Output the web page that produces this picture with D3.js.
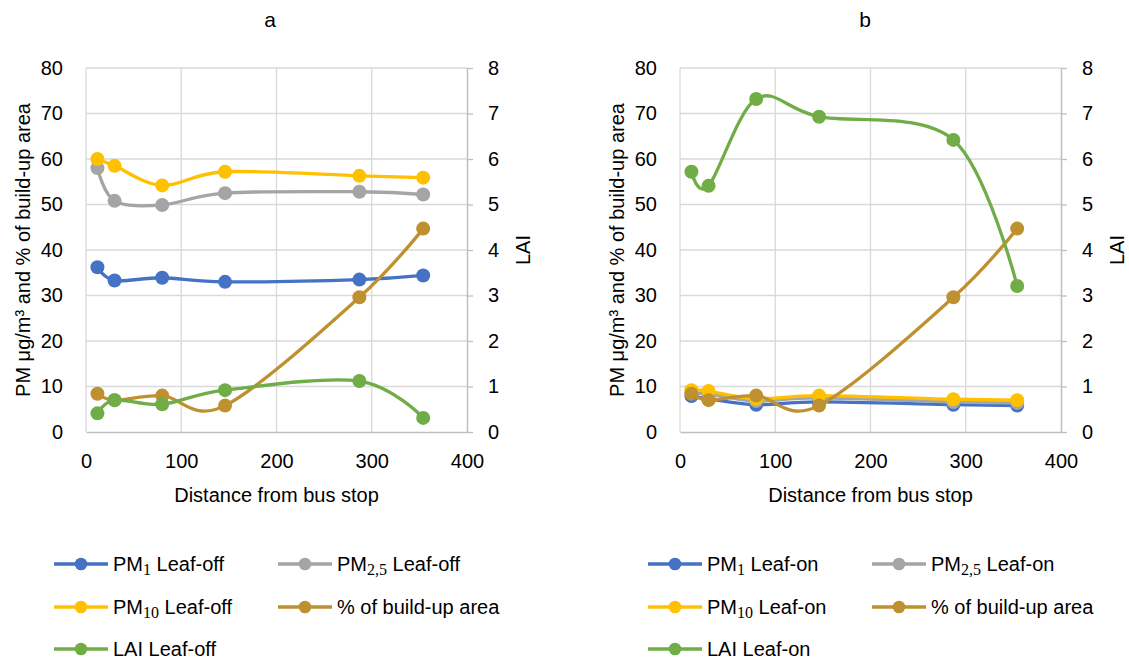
<!DOCTYPE html>
<html>
<head>
<meta charset="utf-8">
<script src="https://cdn.jsdelivr.net/npm/d3@7"></script>
<style>
  body { margin: 0; background: #fff; }
  text { font-family: "Liberation Sans", Arial, sans-serif; fill: #000; }
</style>
</head>
<body>
<svg id="chart" width="1129" height="664"></svg>
<script>
// distances of the sampling points from the bus stop (m)
const distance = [12, 30, 80, 146, 287, 354];

// leaf-off season (panel a)
const pm1Off  = [36.2, 33.3, 33.9, 33.0, 33.5, 34.4];
const pm25Off = [58.0, 50.8, 49.9, 52.5, 52.8, 52.2];
const pm10Off = [60.0, 58.5, 54.2, 57.2, 56.3, 55.9];
const laiOff  = [0.41, 0.70, 0.61, 0.92, 1.12, 0.31];

// leaf-on season (panel b)
const pm1On  = [7.9, 7.3, 6.0, 6.6, 6.0, 5.8];
const pm25On = [8.5, 8.3, 6.8, 7.5, 6.6, 6.4];
const pm10On = [9.2, 9.0, 7.3, 8.0, 7.2, 7.0];
const laiOn  = [5.72, 5.41, 7.32, 6.93, 6.42, 3.21];

// same for both seasons
const buildUp = [8.4, 7.0, 8.0, 5.8, 29.6, 44.7];

const xTicks = [0, 100, 200, 300, 400];
const yTicks = [0, 10, 20, 30, 40, 50, 60, 70, 80];
const laiTicks = [0, 1, 2, 3, 4, 5, 6, 7, 8];

const colors = {
  pm1: "#4472C4",
  pm25: "#A5A5A5",
  pm10: "#FFC000",
  build: "#BF9030",
  lai: "#70AD47"
};

const svg = d3.select("#chart");
svg.append("rect").attr("width", 1129).attr("height", 664).attr("fill", "#fff");

const FONT = 20;

function drawPanel(opts) {
  const left = opts.left, right = opts.left + 381;
  const top = 68, bottom = 432;

  const x = d3.scaleLinear().domain([0, 400]).range([left, right]);
  const y = d3.scaleLinear().domain([0, 80]).range([bottom, top]);
  const yR = d3.scaleLinear().domain([0, 8]).range([bottom, top]);

  const g = svg.append("g");

  // gridlines
  g.append("g").selectAll("line")
    .data(yTicks.slice(1))
    .join("line")
    .attr("x1", left).attr("x2", right)
    .attr("y1", d => y(d)).attr("y2", d => y(d))
    .attr("stroke", "#D9D9D9").attr("stroke-width", 1.3);
  g.append("g").selectAll("line")
    .data(xTicks.slice(0, -1))
    .join("line")
    .attr("x1", d => x(d)).attr("x2", d => x(d))
    .attr("y1", top).attr("y2", bottom)
    .attr("stroke", "#D9D9D9").attr("stroke-width", 1.3);

  // left axis (labels only)
  const la = g.append("g")
    .attr("transform", `translate(${left},0)`)
    .call(d3.axisLeft(y).tickValues(yTicks).tickSize(0).tickPadding(23));
  la.select(".domain").remove();

  // right axis with outer ticks
  const ra = g.append("g")
    .attr("transform", `translate(${right},0)`)
    .call(d3.axisRight(yR).tickValues(laiTicks).tickSize(6).tickPadding(15).tickSizeOuter(0));
  ra.select(".domain").attr("stroke", "#BFBFBF").attr("stroke-width", 1.5);
  ra.selectAll(".tick line").attr("stroke", "#BFBFBF").attr("stroke-width", 1.3);

  // bottom axis
  const ba = g.append("g")
    .attr("transform", `translate(0,${bottom})`)
    .call(d3.axisBottom(x).tickValues(xTicks).tickSize(0).tickPadding(22));
  ba.select(".domain").attr("stroke", "#BFBFBF").attr("stroke-width", 1.5);

  g.selectAll(".tick text")
    .attr("font-size", FONT)
    .attr("font-family", "Liberation Sans, Arial, sans-serif")
    .attr("fill", "#000");

  // titles
  g.append("text")
    .attr("x", opts.titleX).attr("y", 27)
    .attr("text-anchor", "middle")
    .attr("font-size", 21)
    .text(opts.title);

  g.append("text")
    .attr("x", (left + right) / 2).attr("y", 502)
    .attr("text-anchor", "middle")
    .attr("font-size", FONT)
    .text("Distance from bus stop");

  g.append("text")
    .attr("transform", `translate(${left - 56},250) rotate(-90)`)
    .attr("text-anchor", "middle")
    .attr("font-size", FONT)
    .text("PM μg/m³ and % of build-up area");

  g.append("text")
    .attr("transform", `translate(${right + 63},250) rotate(-90)`)
    .attr("text-anchor", "middle")
    .attr("font-size", FONT)
    .text("LAI");

  // series
  const curve = d3.curveCardinal.tension(0);
  opts.series.forEach(s => {
    const sc = s.right ? yR : y;
    const pts = distance.map((d, i) => [d, s.values[i]]);
    const line = d3.line().x(p => x(p[0])).y(p => sc(p[1])).curve(curve);
    g.append("path")
      .attr("d", line(pts))
      .attr("fill", "none")
      .attr("stroke", s.color)
      .attr("stroke-width", 3.3)
      .attr("stroke-linejoin", "round");
    g.append("g").selectAll("circle")
      .data(pts)
      .join("circle")
      .attr("cx", p => x(p[0]))
      .attr("cy", p => sc(p[1]))
      .attr("r", 7)
      .attr("fill", s.color);
  });

  // legend
  const rows = [564, 607, 649];
  const cols = [opts.legendX, opts.legendX + 224];
  opts.series.forEach((s, i) => {
    const cx = cols[i % 2], cy = rows[Math.floor(i / 2)];
    const lg = g.append("g").attr("transform", `translate(${cx},${cy})`);
    lg.append("line")
      .attr("x1", 0).attr("x2", 54)
      .attr("stroke", s.color).attr("stroke-width", 3.6);
    lg.append("circle").attr("cx", 27).attr("r", 6.3).attr("fill", s.color);
    const t = lg.append("text")
      .attr("x", 59).attr("y", 7)
      .attr("font-size", FONT);
    if (s.sub) {
      t.append("tspan").text("PM");
      t.append("tspan")
        .attr("font-family", "Liberation Serif, DejaVu Serif, serif")
        .attr("font-size", 16)
        .attr("dy", 4)
        .text(s.sub);
      t.append("tspan").attr("dy", -4).text(" " + s.label);
    } else {
      t.text(s.label);
    }
  });
}

drawPanel({
  left: 86, title: "a", titleX: 270, legendX: 54,
  series: [
    { values: pm1Off, color: colors.pm1, sub: "1", label: "Leaf-off" },
    { values: pm25Off, color: colors.pm25, sub: "2,5", label: "Leaf-off" },
    { values: pm10Off, color: colors.pm10, sub: "10", label: "Leaf-off" },
    { values: buildUp, color: colors.build, label: "% of build-up area" },
    { values: laiOff, color: colors.lai, label: "LAI Leaf-off", right: true }
  ]
});

drawPanel({
  left: 680, title: "b", titleX: 865, legendX: 648,
  series: [
    { values: pm1On, color: colors.pm1, sub: "1", label: "Leaf-on" },
    { values: pm25On, color: colors.pm25, sub: "2,5", label: "Leaf-on" },
    { values: pm10On, color: colors.pm10, sub: "10", label: "Leaf-on" },
    { values: buildUp, color: colors.build, label: "% of build-up area" },
    { values: laiOn, color: colors.lai, label: "LAI Leaf-on", right: true }
  ]
});
</script>
</body>
</html>
